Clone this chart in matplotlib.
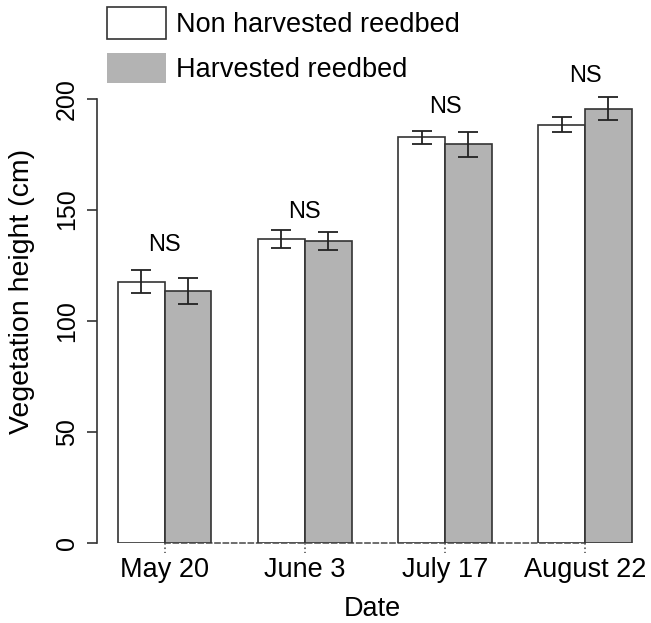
import matplotlib.pyplot as plt
import numpy as np
from matplotlib.patches import Rectangle

plt.rcParams['font.family'] = ['Liberation Sans', 'DejaVu Sans']

# --- Data ---
dates = ['May 20', 'June 3', 'July 17', 'August 22']
non_harvested = [117.5, 136.8, 182.6, 188.2]
non_harvested_err = [5.2, 4.2, 3.0, 3.4]
harvested = [113.4, 135.7, 179.4, 195.4]
harvested_err = [5.8, 4.1, 5.7, 5.2]
sig_labels = ['NS', 'NS', 'NS', 'NS']
sig_y = [134, 149, 196, 210]
legend_labels = ['Non harvested reedbed', 'Harvested reedbed']

# bar layout like R barplot(beside=TRUE, space=c(0,1))
centers = np.array([2, 5, 8, 11])
w = 1.0

W, H = 651, 623
fig = plt.figure(figsize=(W / 100, H / 100), dpi=100)
ax = fig.add_axes([97.4 / W, (H - 542.7) / H, 555 / W, (542.7 - 39.5) / H])

edge = '#333333'
gray = '#b3b3b3'
ax.bar(centers - w / 2, non_harvested, width=w, color='white', edgecolor=edge, linewidth=1.2, zorder=3)
ax.bar(centers + w / 2, harvested, width=w, color=gray, edgecolor=edge, linewidth=1.2, zorder=3)
ax.errorbar(centers - w / 2, non_harvested, yerr=non_harvested_err, fmt='none',
            ecolor='#222222', elinewidth=1.3, capsize=7.2, capthick=1.3, zorder=4)
ax.errorbar(centers + w / 2, harvested, yerr=harvested_err, fmt='none',
            ecolor='#222222', elinewidth=1.3, capsize=7.2, capthick=1.3, zorder=4)

for x, y, s in zip(centers, sig_y, sig_labels):
    ax.text(x, y, s, ha='center', va='center', fontsize=17, clip_on=False)

ax.set_xlim(0.56, 12.44)
ax.set_ylim(0, 226.6)

# axes styling (R look)
ax.spines['top'].set_visible(False)
ax.spines['right'].set_visible(False)
ax.spines['left'].set_bounds(0, 200)
ax.spines['left'].set_color(edge)
ax.spines['left'].set_linewidth(1.2)
ax.spines['bottom'].set_bounds(2, 11)
ax.spines['bottom'].set_linestyle((0, (3, 2)))
ax.spines['bottom'].set_color('#555555')
ax.spines['bottom'].set_linewidth(1.2)

ax.set_yticks([0, 50, 100, 150, 200])
ax.set_yticklabels(['0', '50', '100', '150', '200'], rotation=90, va='center', fontsize=18)
ax.tick_params(axis='y', length=7.2, width=1.2, color=edge, pad=6)

ax.set_xticks(centers)
ax.set_xticklabels(dates, fontsize=19.5)
ax.tick_params(axis='x', length=0, pad=10)
for x in centers:
    ax.plot([x, x], [0, -4.5], ls=':', color='#555555', lw=1.2, clip_on=False, zorder=1)

fig.text(22 / W, 1 - 291 / H, 'Vegetation height (cm)', rotation=90,
         ha='center', va='center', fontsize=20.5)
fig.text(372 / W, 1 - 616 / H, 'Date', ha='center', va='baseline', fontsize=19.5)

# legend drawn by hand, R style
fig.patches.append(Rectangle((107 / W, 1 - 39 / H), 59 / W, 32 / H, transform=fig.transFigure,
                             facecolor='white', edgecolor=edge, linewidth=1.2))
fig.patches.append(Rectangle((107 / W, 1 - 83 / H), 59 / W, 30 / H, transform=fig.transFigure,
                             facecolor=gray, edgecolor='none'))
fig.text(176 / W, 1 - 31.7 / H, legend_labels[0], ha='left', va='baseline', fontsize=19.5)
fig.text(176 / W, 1 - 77 / H, legend_labels[1], ha='left', va='baseline', fontsize=19.5)

fig.savefig('out.png', dpi=100)
